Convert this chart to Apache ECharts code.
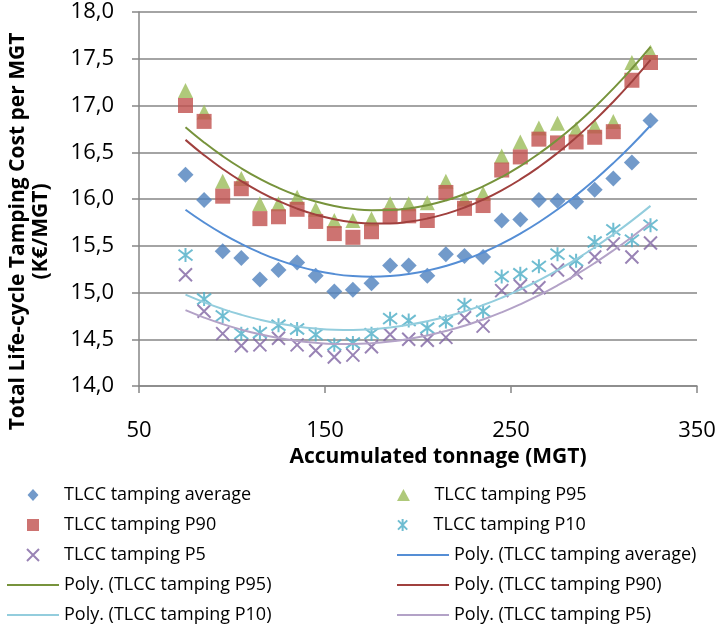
<!DOCTYPE html>
<html>
<head>
<meta charset="utf-8">
<script src="https://cdn.jsdelivr.net/npm/echarts@6/dist/echarts.min.js"></script>
<style>
    html, body { margin: 0; padding: 0; background: #fff; }
    #chart { width: 719px; height: 631px; }
</style>
</head>
<body>
<div id="chart"></div>
<script>
// accumulated tonnage (MGT)
var tonnage = [75, 85, 95, 105, 115, 125, 135, 145, 155, 165, 175, 185, 195,
               205, 215, 225, 235, 245, 255, 265, 275, 285, 295, 305, 315, 325];

var avgValues = [16.26, 15.99, 15.44, 15.37, 15.14, 15.24, 15.32, 15.18, 15.01, 15.03, 15.10, 15.29, 15.29,
                 15.18, 15.41, 15.39, 15.38, 15.77, 15.78, 15.99, 15.98, 15.97, 16.10, 16.22, 16.39, 16.84];
var p95Values = [17.16, 16.93, 16.19, 16.22, 15.95, 15.95, 16.02, 15.89, 15.77, 15.77, 15.79, 15.95, 15.95,
                 15.96, 16.19, 16.00, 16.06, 16.46, 16.61, 16.76, 16.81, 16.75, 16.78, 16.83, 17.46, 17.57];
var p90Values = [17.00, 16.83, 16.03, 16.11, 15.79, 15.81, 15.89, 15.76, 15.63, 15.59, 15.65, 15.82, 15.82,
                 15.77, 16.07, 15.90, 15.93, 16.31, 16.45, 16.64, 16.60, 16.61, 16.66, 16.72, 17.27, 17.46];
var p10Values = [15.40, 14.93, 14.75, 14.56, 14.57, 14.65, 14.61, 14.55, 14.44, 14.46, 14.56, 14.72, 14.70,
                 14.62, 14.69, 14.87, 14.80, 15.17, 15.20, 15.28, 15.41, 15.34, 15.54, 15.67, 15.56, 15.72];
var p5Values  = [15.19, 14.80, 14.56, 14.43, 14.44, 14.51, 14.44, 14.38, 14.31, 14.33, 14.42, 14.55, 14.50,
                 14.49, 14.52, 14.73, 14.64, 15.02, 15.07, 15.05, 15.24, 15.21, 15.38, 15.52, 15.38, 15.53];

var yTicks = { min: 14, max: 18, step: 0.5 };
var xTicks = { min: 50, max: 350, step: 100 };

var FONT = '"Open Sans", "Liberation Sans", sans-serif';
var DIAMOND_PATH = 'path://M5,0L10,5.5L5,11L0,5.5Z';
var TRIANGLE_PATH = 'path://M5,0L10,9.3L0,9.3Z';
var SQUARE_PATH = 'path://M0,0L10,0L10,10L0,10Z';
var X_PATH = 'path://M0,0L10,10M10,0L0,10';
var STAR_PATH = 'path://M0,0L10,10M10,0L0,10M5,-1.5L5,11.5';
var LINE_ICON = 'path://M0,0L52,0L52,2L0,2Z';

function pairs(ys) {
    return tonnage.map(function (x, i) { return [x, ys[i]]; });
}

// least squares 2nd order polynomial, like the Excel "Poly." trendline
function polyFit(ys) {
    var s = [0, 0, 0, 0, 0], t = [0, 0, 0];
    tonnage.forEach(function (x, i) {
        for (var k = 0; k < 5; k++) s[k] += Math.pow(x, k);
        for (var k = 0; k < 3; k++) t[k] += ys[i] * Math.pow(x, k);
    });
    var m = [[s[0], s[1], s[2], t[0]],
             [s[1], s[2], s[3], t[1]],
             [s[2], s[3], s[4], t[2]]];
    for (var c = 0; c < 3; c++) {
        for (var r = c + 1; r < 3; r++) {
            var f = m[r][c] / m[c][c];
            for (var k = c; k < 4; k++) m[r][k] -= f * m[c][k];
        }
    }
    var b = [0, 0, 0];
    for (var r = 2; r >= 0; r--) {
        var v = m[r][3];
        for (var k = r + 1; k < 3; k++) v -= m[r][k] * b[k];
        b[r] = v / m[r][r];
    }
    return tonnage.map(function (x) { return [x, b[0] + b[1] * x + b[2] * x * x]; });
}

function markers(name, ys, symbol, size, color, stroke) {
    var style = stroke ? { color: 'rgba(0,0,0,0)', borderColor: color, borderWidth: 2 } : { color: color };
    return {
        name: name,
        type: 'scatter',
        symbol: symbol,
        symbolSize: size,
        itemStyle: style,
        data: pairs(ys)
    };
}

function trend(name, ys, color) {
    return {
        name: name,
        type: 'line',
        smooth: true,
        symbol: 'none',
        lineStyle: { color: color, width: 2 },
        itemStyle: { color: color },
        data: polyFit(ys)
    };
}

var legendNames = ['TLCC tamping average', 'TLCC tamping P95', 'TLCC tamping P90', 'TLCC tamping P10',
                   'TLCC tamping P5', 'Poly. (TLCC tamping average)', 'Poly. (TLCC tamping P95)',
                   'Poly. (TLCC tamping P90)', 'Poly. (TLCC tamping P10)', 'Poly. (TLCC tamping P5)'];
var legendIcons = [DIAMOND_PATH, TRIANGLE_PATH, SQUARE_PATH, STAR_PATH, X_PATH,
                   LINE_ICON, LINE_ICON, LINE_ICON, LINE_ICON, LINE_ICON];

var myChart = echarts.init(document.getElementById('chart'));
var option = {
    animation: false,
    grid: { left: 139, right: 22, top: 12, bottom: 245, outerBoundsMode: 'none' },
    legend: {
        left: 2,
        top: 481,
        width: 790,
        itemWidth: 52,
        itemHeight: 12,
        itemGap: 12,
        textStyle: { fontFamily: FONT, fontSize: 18, color: '#000', width: 321, lineHeight: 15 },
        data: legendNames.map(function (n, i) { return { name: n, icon: legendIcons[i] }; })
    },
    xAxis: {
        type: 'value',
        min: xTicks.min,
        max: xTicks.max,
        interval: xTicks.step,
        name: 'Accumulated tonnage (MGT)',
        nameLocation: 'middle',
        nameGap: 59,
        nameTextStyle: { fontFamily: FONT, fontSize: 21, fontWeight: 'bold', color: '#000', padding: [0, 0, 0, 40] },
        splitLine: { show: false },
        axisLine: { lineStyle: { color: '#868686', width: 1.5 } },
        axisTick: { show: true, length: 7, lineStyle: { color: '#868686', width: 1.5 } },
        axisLabel: { fontFamily: FONT, fontSize: 22, color: '#000', margin: 34 }
    },
    yAxis: {
        type: 'value',
        min: yTicks.min,
        max: yTicks.max,
        interval: yTicks.step,
        name: 'Total Life-cycle Tamping Cost per MGT\n(K€/MGT)',
        nameLocation: 'middle',
        nameGap: 86,
        nameTextStyle: { fontFamily: FONT, fontSize: 21, fontWeight: 'bold', color: '#000', lineHeight: 23, padding: [0, 65, 0, 0] },
        axisLine: { show: true, lineStyle: { color: '#868686', width: 1.5 } },
        axisTick: { show: true, length: 7, lineStyle: { color: '#868686', width: 1.5 } },
        splitLine: { lineStyle: { color: '#868686', width: 1.5 } },
        axisLabel: {
            fontFamily: FONT, fontSize: 22, color: '#000', margin: 25,
            formatter: function (v) { return v.toFixed(1).replace('.', ','); }
        }
    },
    series: [
        markers('TLCC tamping average', avgValues, DIAMOND_PATH, 16, '#4F81BD'),
        markers('TLCC tamping P95', p95Values, TRIANGLE_PATH, 15, '#9BBB59'),
        markers('TLCC tamping P90', p90Values, SQUARE_PATH, 15, '#C0504D'),
        markers('TLCC tamping P10', p10Values, STAR_PATH, 14, '#4BACC6', true),
        markers('TLCC tamping P5', p5Values, X_PATH, 13, '#8064A2', true),
        trend('Poly. (TLCC tamping average)', avgValues, '#558ED5'),
        trend('Poly. (TLCC tamping P95)', p95Values, '#77933C'),
        trend('Poly. (TLCC tamping P90)', p90Values, '#A0403E'),
        trend('Poly. (TLCC tamping P10)', p10Values, '#93CDDD'),
        trend('Poly. (TLCC tamping P5)', p5Values, '#B3A2C7')
    ]
};
myChart.setOption(option);
window.addEventListener('resize', function () {
    myChart.resize();
});
</script>
</body>
</html>
